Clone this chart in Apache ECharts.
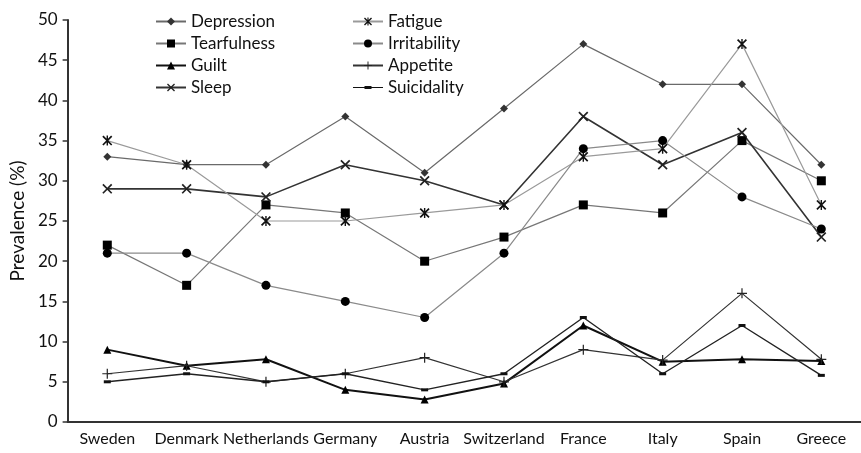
<!DOCTYPE html>
<html>
<head>
<meta charset="utf-8">
<script src="https://cdn.jsdelivr.net/npm/echarts@6/dist/echarts.min.js"></script>
<style>html,body{margin:0;padding:0;background:#fff}#c{width:861px;height:453px}</style>
</head>
<body>
<div id="c"></div>
<script>
const categories = ['Sweden','Denmark','Netherlands','Germany','Austria','Switzerland','France','Italy','Spain','Greece'];
const yTicks = [0,5,10,15,20,25,30,35,40,45,50];
const depression   = [33, 32, 32, 38, 31, 39, 47, 42, 42, 32];
const tearfulness  = [22, 17, 27, 26, 20, 23, 27, 26, 35, 30];
const guilt        = [9, 7, 7.8, 4, 2.8, 4.8, 12, 7.5, 7.8, 7.6];
const sleep        = [29, 29, 28, 32, 30, 27, 38, 32, 36, 23];
const fatigue      = [35, 32, 25, 25, 26, 27, 33, 34, 47, 27];
const irritability = [21, 21, 17, 15, 13, 21, 34, 35, 28, 24];
const appetite     = [6, 7, 5, 6, 8, 5, 9, 7.7, 16, 7.8];
const suicidality  = [5, 6, 5, 6, 4, 6, 13, 6, 12, 5.8];

const X_PATH = 'path://M0,1.2L1.2,0L10,8.8L8.8,10Z M8.8,0L10,1.2L1.2,10L0,8.8Z';
const AST_PATH = 'path://M0,1.2L1.2,0L10,8.8L8.8,10Z M8.8,0L10,1.2L1.2,10L0,8.8Z M4.3,0H5.7V10H4.3Z';
const PLUS_PATH = 'path://M4.4,0H5.6V4.4H10V5.6H5.6V10H4.4V5.6H0V4.4H4.4Z';
const DASH_PATH = 'path://M0,0H7V3H0Z';
const DASH_LEGEND = 'path://M0,0.9H30V2.1H0Z M11.5,0H18.5V3H11.5Z';

function s(name, data, symbol, size, lineColor, lineWidth, symColor, keep) {
  return {
    name, type: 'line', data, symbol, symbolSize: size,
    symbolKeepAspect: !!keep,
    showSymbol: true,
    lineStyle: { color: lineColor, width: lineWidth },
    itemStyle: { color: symColor || '#111' },
    emphasis: { disabled: true },
    z: 3
  };
}

const chart = echarts.init(document.getElementById('c'), null, { renderer: 'canvas' });
const font = 'Lato, "Open Sans", sans-serif';
const legendCommon = {
  orient: 'vertical', top: 8, itemWidth: 30, itemHeight: 10, itemGap: 5,
  symbolKeepAspect: true,
  textStyle: { fontSize: 17, color: '#111', fontFamily: font }
};
chart.setOption({
  animation: false,
  backgroundColor: '#fff',
  textStyle: { fontFamily: font },
  grid: { left: 65, top: 20, width: 801, height: 402, containLabel: false },
  legend: [
    Object.assign({ data: ['Depression','Tearfulness','Guilt','Sleep'], left: 150 }, legendCommon),
    Object.assign({ data: ['Fatigue','Irritability','Appetite', { name: 'Suicidality', icon: DASH_LEGEND }], left: 347 }, legendCommon)
  ],
  xAxis: {
    type: 'category', data: categories, boundaryGap: true,
    axisLine: { lineStyle: { color: '#333', width: 2 } },
    axisTick: { alignWithLabel: true, length: 5, lineStyle: { color: '#333', width: 1.5 } },
    axisLabel: { color: '#111', fontSize: 16, margin: 9, fontFamily: font, interval: 0 }
  },
  yAxis: {
    type: 'value', min: yTicks[0], max: yTicks[yTicks.length - 1], interval: 5,
    name: 'Prevalence (%)', nameLocation: 'middle', nameGap: 35,
    nameTextStyle: { fontSize: 19, color: '#111', fontFamily: font },
    axisLine: { show: true, lineStyle: { color: '#333', width: 2 } },
    axisTick: { show: true, length: 5, lineStyle: { color: '#333', width: 1.5 } },
    axisLabel: { color: '#111', fontSize: 17, margin: 10, fontFamily: font },
    splitLine: { show: false }
  },
  series: [
    s('Depression', depression, 'diamond', 8, '#6a6a6a', 1.2, '#333'),
    s('Tearfulness', tearfulness, 'rect', 9, '#777', 1.2, '#000'),
    s('Guilt', guilt, 'triangle', 8, '#111', 2, '#000'),
    s('Sleep', sleep, X_PATH, 10, '#333', 1.6, '#222'),
    s('Fatigue', fatigue, AST_PATH, 10, '#9a9a9a', 1.2, '#111'),
    s('Irritability', irritability, 'circle', 9, '#8a8a8a', 1.2, '#000'),
    s('Appetite', appetite, PLUS_PATH, 10, '#333', 1.2, '#222'),
    s('Suicidality', suicidality, DASH_PATH, 7, '#222', 1.4, '#111', true)
  ]
});
</script>
</body>
</html>
